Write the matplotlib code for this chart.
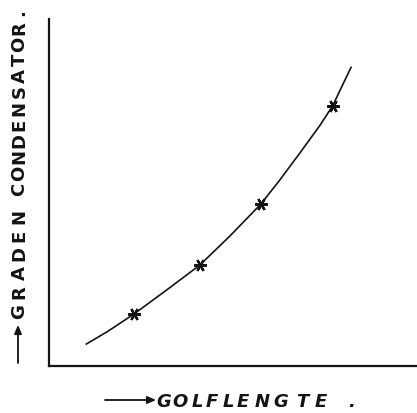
import matplotlib
matplotlib.use("Agg")
import matplotlib.pyplot as plt

# curve (arbitrary units 0-100)
curve_x = [10.1, 16.0, 23.1, 32.1, 41.0, 49.2, 57.6, 62.5, 67.7, 73.6, 77.1, 79.6, 82.1]
curve_y = [6.3, 10.0, 15.0, 22.0, 29.1, 37.5, 46.7, 53.3, 60.7, 69.3, 75.0, 80.6, 86.1]
# measured points (crosses)
point_x = [23.1, 41.0, 57.6, 77.1]
point_y = [15.0, 29.1, 46.7, 75.0]

x_label = "GOLFLENGTE."
y_label = "GRADEN CONDENSATOR."

W, H = 417, 414
fig = plt.figure(figsize=(W / 100, H / 100), dpi=100)
ax = fig.add_axes([49 / W, 47 / H, 368 / W, 347 / H])

ink = "#141414"
ax.plot(curve_x, curve_y, color=ink, lw=1.2, solid_capstyle="round",
        solid_joinstyle="round")
ax.plot(point_x, point_y, linestyle="none", marker=(6, 2, 90), markersize=9,
        markeredgewidth=1.6, color=ink)

ax.set_xlim(0, 100)
ax.set_ylim(0, 100)
ax.set_xticks([])
ax.set_yticks([])
for s in ("top", "right"):
    ax.spines[s].set_visible(False)
for s in ("left", "bottom"):
    ax.spines[s].set_linewidth(1.6)
    ax.spines[s].set_color(ink)


def fx(px):
    return px / W


def fy(py):
    return 1 - py / H


# hand-lettered labels: one glyph at a time, with the lettering's spacing
x_centres = [164, 180, 197, 212, 228, 243, 262, 281, 302, 321, 352]
for ch, cx in zip(x_label, x_centres):
    fig.text(fx(cx), fy(407), ch, ha="center", va="baseline",
             fontsize=13, fontweight="bold", fontstyle="oblique",
             family="DejaVu Sans", color=ink)
fig.add_artist(plt.Annotation("", xy=(fx(156), fy(401)), xytext=(fx(105), fy(401)),
                              xycoords="figure fraction", textcoords="figure fraction",
                              arrowprops=dict(arrowstyle="-|>,head_length=0.5,head_width=0.22",
                                              lw=1.3, color=ink, shrinkA=0, shrinkB=0)))

y_centres = [312, 292, 273, 254, 236, 217, None, 189, 173, 157, 141, 125,
             109, 92, 76, 60, 44, 28, 13]
for ch, cy in zip(y_label, y_centres):
    if cy is None:
        continue
    fig.text(fx(24.5), fy(cy), ch, ha="center", va="baseline", rotation=90,
             rotation_mode="anchor", fontsize=13, fontweight="bold",
             family="DejaVu Sans", color=ink)
fig.add_artist(plt.Annotation("", xy=(fx(18), fy(326)), xytext=(fx(18), fy(364)),
                              xycoords="figure fraction", textcoords="figure fraction",
                              arrowprops=dict(arrowstyle="-|>,head_length=0.5,head_width=0.22",
                                              lw=1.3, color=ink, shrinkA=0, shrinkB=0)))

fig.savefig("out.png", dpi=100, facecolor="white")
